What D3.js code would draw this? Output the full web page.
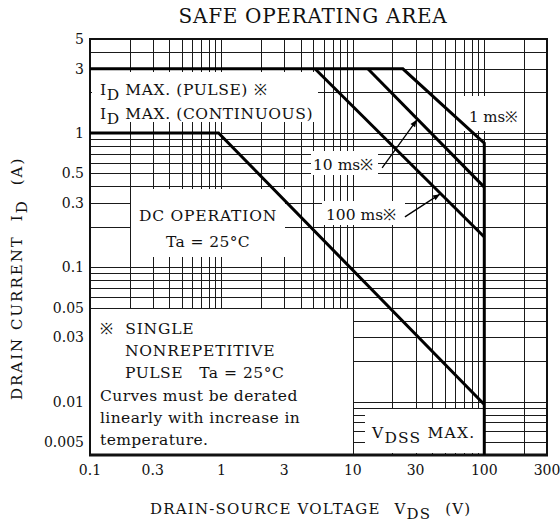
<!DOCTYPE html>
<html>
<head>
<meta charset="utf-8">
<script src="https://cdn.jsdelivr.net/npm/d3@7"></script>
<style>
  body { margin: 0; background: #fff; }
  svg { display: block; }
  text { font-family: "DejaVu Serif", serif; fill: #111; }
</style>
</head>
<body>
<svg id="chart" width="560" height="523"></svg>
<script>
// ---- data ----
const xTicks = [0.1, 0.3, 1, 3, 10, 30, 100, 300];
const yTicks = [0.005, 0.01, 0.03, 0.05, 0.1, 0.3, 0.5, 1, 3, 5];
const xDomain = [0.1, 300];
const yDomain = [0.004, 5];

// SOA boundary curves [V_DS, I_D]
const curve1ms   = [[0.1, 3], [24, 3], [100, 0.84], [100, 0.004]];
const curve10ms  = [[13, 3], [100, 0.395]];
const curve100ms = [[5.15, 3], [100, 0.168]];
const curveDC    = [[0.1, 1], [0.95, 1], [100, 0.0095]];

// pointer arrows [from, to]
const arrow10ms  = [[16.7, 0.55], [30.7, 1.25]];
const arrow100ms = [[24.9, 0.237], [46, 0.35]];

// ---- setup ----
const svg = d3.select("#chart");
const x = d3.scaleLog().domain(xDomain).range([90, 547]);
const y = d3.scaleLog().domain(yDomain).range([455, 39]);

// grid values: 1..9 per decade
const gridVals = (lo, hi) => {
    const out = [];
    for (let e = -4; e <= 3; e++) {
        for (let k = 1; k <= 9; k++) {
            const v = +(k * Math.pow(10, e)).toPrecision(3);
            if (v >= lo - 1e-12 && v <= hi + 1e-12) out.push(v);
        }
    }
    return out;
};

const grid = svg.append("g").attr("stroke", "#1a1a1a").attr("stroke-width", 1);
grid.selectAll("line.vx").data(gridVals(xDomain[0], xDomain[1])).join("line")
    .attr("x1", d => Math.round(x(d)) + 0.5).attr("x2", d => Math.round(x(d)) + 0.5)
    .attr("y1", y(yDomain[1])).attr("y2", y(yDomain[0]));
grid.selectAll("line.hy").data(gridVals(yDomain[0], yDomain[1])).join("line")
    .attr("y1", d => Math.round(y(d)) + 0.5).attr("y2", d => Math.round(y(d)) + 0.5)
    .attr("x1", x(xDomain[0])).attr("x2", x(xDomain[1]));

// white label backgrounds (pixel layout)
const boxes = [
    {x: 92, y: 72, w: 226, h: 50},     // ID MAX labels
    {x: 458, y: 96, w: 62, h: 35},     // 1 ms
    {x: 311, y: 151, w: 67, h: 24},    // 10 ms
    {x: 131, y: 189, w: 154, h: 68},   // DC OPERATION
    {x: 322, y: 201, w: 83, h: 24},    // 100 ms
    {x: 365, y: 409, w: 118, h: 44}    // VDSS MAX
];
svg.append("g").selectAll("rect").data(boxes).join("rect")
    .attr("x", d => d.x).attr("y", d => d.y).attr("width", d => d.w).attr("height", d => d.h)
    .attr("fill", "#fff");

// note box bottom-left (bordered)
svg.append("rect")
    .attr("x", x(0.1)).attr("y", Math.round(y(0.05)) + 0.5)
    .attr("width", Math.round(x(10)) + 0.5 - x(0.1))
    .attr("height", y(yDomain[0]) - Math.round(y(0.05)) - 0.5)
    .attr("fill", "#fff").attr("stroke", "#1a1a1a").attr("stroke-width", 1);

// frame
svg.append("rect")
    .attr("x", x(xDomain[0])).attr("y", y(yDomain[1]))
    .attr("width", x(xDomain[1]) - x(xDomain[0])).attr("height", y(yDomain[0]) - y(yDomain[1]))
    .attr("fill", "none").attr("stroke", "#111").attr("stroke-width", 2);
svg.append("line")
    .attr("x1", x(xDomain[0]) - 1).attr("x2", x(xDomain[1]) + 1)
    .attr("y1", y(yDomain[0])).attr("y2", y(yDomain[0]))
    .attr("stroke", "#111").attr("stroke-width", 3);

// curves
const line = d3.line().x(d => x(d[0])).y(d => y(d[1]));
svg.append("g").selectAll("path")
    .data([curve1ms, curve10ms, curve100ms, curveDC]).join("path")
    .attr("d", line)
    .attr("fill", "none").attr("stroke", "#000").attr("stroke-width", 3)
    .attr("stroke-linejoin", "miter");

// arrows
svg.append("defs").append("marker")
    .attr("id", "arr").attr("viewBox", "0 0 10 10").attr("refX", 10).attr("refY", 5)
    .attr("markerWidth", 9).attr("markerHeight", 7).attr("markerUnits", "userSpaceOnUse")
    .attr("orient", "auto")
    .append("path").attr("d", "M0,1 L10,5 L0,9 z").attr("fill", "#000");
svg.append("g").selectAll("line").data([arrow10ms, arrow100ms]).join("line")
    .attr("x1", d => x(d[0][0])).attr("y1", d => y(d[0][1]))
    .attr("x2", d => x(d[1][0])).attr("y2", d => y(d[1][1]))
    .attr("stroke", "#000").attr("stroke-width", 1.3)
    .attr("marker-end", "url(#arr)");

// ticks
svg.append("g").selectAll("text").data(yTicks).join("text")
    .attr("x", 84).attr("y", d => y(d) + 5)
    .attr("text-anchor", "end").attr("font-size", 14)
    .text(d => d);
svg.append("g").selectAll("text").data(xTicks).join("text")
    .attr("x", d => x(d)).attr("y", 475)
    .attr("text-anchor", "middle").attr("font-size", 14)
    .text(d => d);

// helper for text with subscript parts
function richText(g, parts, size, spacing) {
    const t = g.append("text").attr("font-size", size).attr("letter-spacing", spacing || 0);
    parts.forEach(p => {
        const s = t.append("tspan").text(p[0]);
        if (p[1] === "sub") s.attr("dy", size * 0.3);
        if (p[1] === "up") s.attr("dy", -size * 0.3);
        if (p[2]) s.attr("dx", p[2]);
    });
    return t;
}

// title
svg.append("text").attr("x", 313).attr("y", 23).attr("text-anchor", "middle")
    .attr("font-size", 20).attr("letter-spacing", 0.7).text("SAFE OPERATING AREA");

// axis titles
richText(svg.append("g").attr("transform", "translate(150,514)"),
    [["DRAIN-SOURCE VOLTAGE"], ["V", null, 14], ["DS", "sub"], ["(V)", "up", 14]], 15, 1.2);
richText(svg.append("g").attr("transform", "translate(22,400) rotate(-90)"),
    [["DRAIN CURRENT"], ["I", null, 14], ["D", "sub"], ["(A)", "up", 14]], 15, 2);

// in-plot labels
richText(svg.append("g").attr("transform", "translate(100,95)"),
    [["I"], ["D", "sub"], [" MAX. (PULSE) ※", "up"]], 15.5, 0.6);
richText(svg.append("g").attr("transform", "translate(100,119)"),
    [["I"], ["D", "sub"], [" MAX. (CONTINUOUS)", "up"]], 15.5, 0.6);
svg.append("text").attr("x", 469).attr("y", 122).attr("font-size", 15).text("1 ms※");
svg.append("text").attr("x", 313).attr("y", 170).attr("font-size", 15.5).text("10 ms※");
svg.append("text").attr("x", 326).attr("y", 220).attr("font-size", 15.5).text("100 ms※");
svg.append("text").attr("x", 208).attr("y", 221).attr("text-anchor", "middle").attr("font-size", 15.5)
    .attr("letter-spacing", 0.8).text("DC OPERATION");
svg.append("text").attr("x", 208).attr("y", 247).attr("text-anchor", "middle").attr("font-size", 15.5)
    .attr("letter-spacing", 0.4).text("Ta = 25°C");
richText(svg.append("g").attr("transform", "translate(372,438)"),
    [["V"], ["DSS", "sub"], [" MAX.", "up"]], 15.5, 1.2);

const notes = [
    {t: "※  SINGLE", x: 100, y: 334, ls: 0.8},
    {t: "NONREPETITIVE", x: 125, y: 356, ls: 0.8},
    {t: "PULSE   Ta = 25°C", x: 125, y: 378, ls: 0.5},
    {t: "Curves must be derated", x: 100, y: 401, ls: 0.4},
    {t: "linearly with increase in", x: 100, y: 423, ls: 0.4},
    {t: "temperature.", x: 100, y: 445, ls: 0.4}
];
svg.append("g").selectAll("text").data(notes).join("text")
    .attr("x", d => d.x).attr("y", d => d.y).attr("font-size", 15.5)
    .attr("letter-spacing", d => d.ls)
    .attr("xml:space", "preserve").style("white-space", "pre")
    .text(d => d.t);
</script>
</body>
</html>
